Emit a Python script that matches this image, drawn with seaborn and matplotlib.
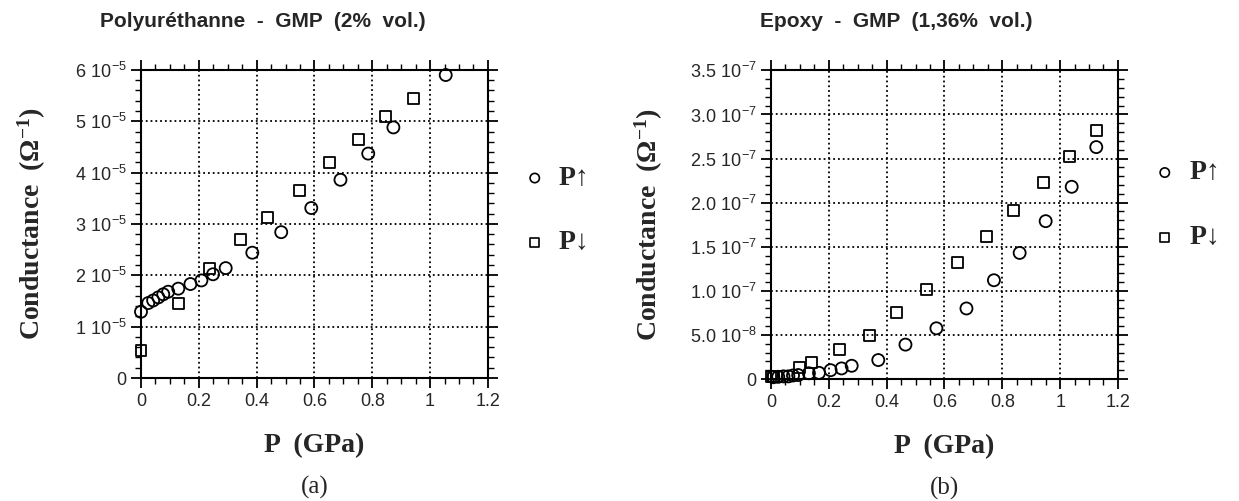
import matplotlib
matplotlib.use("Agg")
import matplotlib.pyplot as plt
from matplotlib.ticker import MultipleLocator
import seaborn as sns
import numpy as np

# (a) Polyurethanne - GMP (2% vol.)
pu_up_p = [0.0, 0.025, 0.042, 0.060, 0.077, 0.094, 0.129, 0.171, 0.209, 0.249, 0.293,
           0.385, 0.485, 0.589, 0.690, 0.786, 0.873, 1.054]
pu_up_g = [1.29e-5, 1.46e-5, 1.51e-5, 1.57e-5, 1.63e-5, 1.68e-5, 1.74e-5, 1.83e-5, 1.90e-5,
           2.02e-5, 2.14e-5, 2.44e-5, 2.84e-5, 3.31e-5, 3.86e-5, 4.37e-5, 4.88e-5, 5.90e-5]
pu_down_p = [0.0, 0.131, 0.238, 0.345, 0.439, 0.548, 0.652, 0.753, 0.847, 0.941]
pu_down_g = [0.53e-5, 1.45e-5, 2.13e-5, 2.69e-5, 3.13e-5, 3.65e-5, 4.19e-5, 4.64e-5,
             5.09e-5, 5.45e-5]

# (b) Epoxy - GMP (1,36% vol.)
ep_up_p = [0.008, 0.025, 0.043, 0.060, 0.076, 0.094, 0.131, 0.166, 0.206, 0.244, 0.279,
           0.371, 0.465, 0.572, 0.676, 0.771, 0.860, 0.950, 1.040, 1.125]
ep_up_g = [0.02e-7, 0.025e-7, 0.03e-7, 0.03e-7, 0.04e-7, 0.045e-7, 0.065e-7, 0.07e-7,
           0.10e-7, 0.12e-7, 0.15e-7, 0.215e-7, 0.39e-7, 0.575e-7, 0.80e-7, 1.12e-7,
           1.43e-7, 1.79e-7, 2.18e-7, 2.63e-7]
ep_down_p = [0.0, 0.01, 0.02, 0.098, 0.141, 0.238, 0.339, 0.434, 0.538, 0.645, 0.745,
             0.839, 0.943, 1.033, 1.125]
ep_down_g = [0.03e-7, 0.03e-7, 0.03e-7, 0.13e-7, 0.185e-7, 0.33e-7, 0.49e-7, 0.75e-7,
             1.02e-7, 1.32e-7, 1.62e-7, 1.91e-7, 2.23e-7, 2.52e-7, 2.815e-7]

x_ticks = [0, 0.2, 0.4, 0.6, 0.8, 1.0, 1.2]
x_labels = ["0", "0.2", "0.4", "0.6", "0.8", "1", "1.2"]
pu_y_ticks = [0, 1e-5, 2e-5, 3e-5, 4e-5, 5e-5, 6e-5]
pu_y_labels = ["0"] + [r"$\mathregular{%d\ 10^{-5}}$" % i for i in range(1, 7)]
ep_y_ticks = [0, 0.5e-7, 1.0e-7, 1.5e-7, 2.0e-7, 2.5e-7, 3.0e-7, 3.5e-7]
ep_y_labels = ["0", r"$\mathregular{5.0\ 10^{-8}}$", r"$\mathregular{1.0\ 10^{-7}}$",
               r"$\mathregular{1.5\ 10^{-7}}$", r"$\mathregular{2.0\ 10^{-7}}$",
               r"$\mathregular{2.5\ 10^{-7}}$", r"$\mathregular{3.0\ 10^{-7}}$",
               r"$\mathregular{3.5\ 10^{-7}}$"]

sns.set_style("ticks")
plt.rcParams['font.family'] = ['Liberation Sans', 'DejaVu Sans']
plt.rcParams['mathtext.fontset'] = 'custom'
plt.rcParams['mathtext.rm'] = 'Liberation Sans'

SERIF = ['Liberation Serif', 'DejaVu Serif']

fig = plt.figure(figsize=(12.39, 5.01), dpi=100)
ax1 = fig.add_axes([0.1138, 0.2455, 0.280, 0.615])
ax2 = fig.add_axes([0.6223, 0.2435, 0.280, 0.616])

panels = [
    (ax1, pu_up_p, pu_up_g, pu_down_p, pu_down_g, 6e-5, pu_y_ticks, pu_y_labels, 0.2e-5,
     "Polyuréthanne  -  GMP  (2%  vol.)", "(a)", 0.35, -0.268, (0.649, 0.44)),
    (ax2, ep_up_p, ep_up_g, ep_down_p, ep_down_g, 3.5e-7, ep_y_ticks, ep_y_labels, 0.1e-7,
     "Epoxy  -  GMP  (1,36%  vol.)", "(b)", 0.36, -0.305, (0.669, 0.458)),
]

for ax, up_p, up_g, dn_p, dn_g, ymax, yt, yl, yminor, title, tag, tx, ylx, leg_y in panels:
    sns.scatterplot(x=up_p, y=up_g, marker='o', s=75, facecolor='none', edgecolor='black',
                    linewidth=1.3, ax=ax, zorder=3, clip_on=False)
    sns.scatterplot(x=dn_p, y=dn_g, marker='s', s=62, facecolor='none', edgecolor='black',
                    linewidth=1.3, ax=ax, zorder=3, clip_on=False)
    ax.set_xlim(0, 1.2)
    ax.set_ylim(0, ymax)
    ax.set_xticks(x_ticks)
    ax.set_xticklabels(x_labels, fontsize=13)
    ax.set_yticks(yt)
    ax.set_yticklabels(yl, fontsize=13)
    ax.xaxis.set_minor_locator(MultipleLocator(0.05))
    ax.yaxis.set_minor_locator(MultipleLocator(yminor))
    ax.tick_params(which='both', direction='out', top=True, right=True, color='black')
    ax.tick_params(which='major', length=7, width=1.3)
    ax.tick_params(which='minor', length=4, width=1.0)
    for sp in ax.spines.values():
        sp.set_visible(True)
        sp.set_linewidth(1.5)
        sp.set_color('black')
    ax.grid(True, which='major', linestyle=':', color='black', linewidth=1.3)
    ax.set_axisbelow(True)

    ax.set_xlabel("P  (GPa)", family=SERIF, fontweight='bold', fontsize=20)
    ax.xaxis.set_label_coords(0.5, -0.18)
    ax.set_ylabel(r"Conductance  ($\mathregular{Ω^{-1}}$)", family=SERIF,
                  fontweight='bold', fontsize=20)
    ax.yaxis.set_label_coords(ylx, 0.5)
    ax.set_title(title, x=tx, y=1.14, pad=0, fontsize=15, fontweight='bold')
    ax.text(0.5, -0.354, tag, transform=ax.transAxes, ha='center', va='center',
            family=SERIF, fontsize=18)

    # legend drawn beside the axes
    ax.scatter([1.135], [leg_y[0]], marker='o', s=45, facecolor='none', edgecolor='black',
               linewidth=1.2, transform=ax.transAxes, clip_on=False)
    ax.scatter([1.135], [leg_y[1]], marker='s', s=40, facecolor='none', edgecolor='black',
               linewidth=1.2, transform=ax.transAxes, clip_on=False)
    ax.text(1.205, leg_y[0], "P↑", transform=ax.transAxes, ha='left', va='center',
            family=SERIF, fontweight='bold', fontsize=20)
    ax.text(1.205, leg_y[1], "P↓", transform=ax.transAxes, ha='left', va='center',
            family=SERIF, fontweight='bold', fontsize=20)

fig.savefig("out.png", dpi=100)
